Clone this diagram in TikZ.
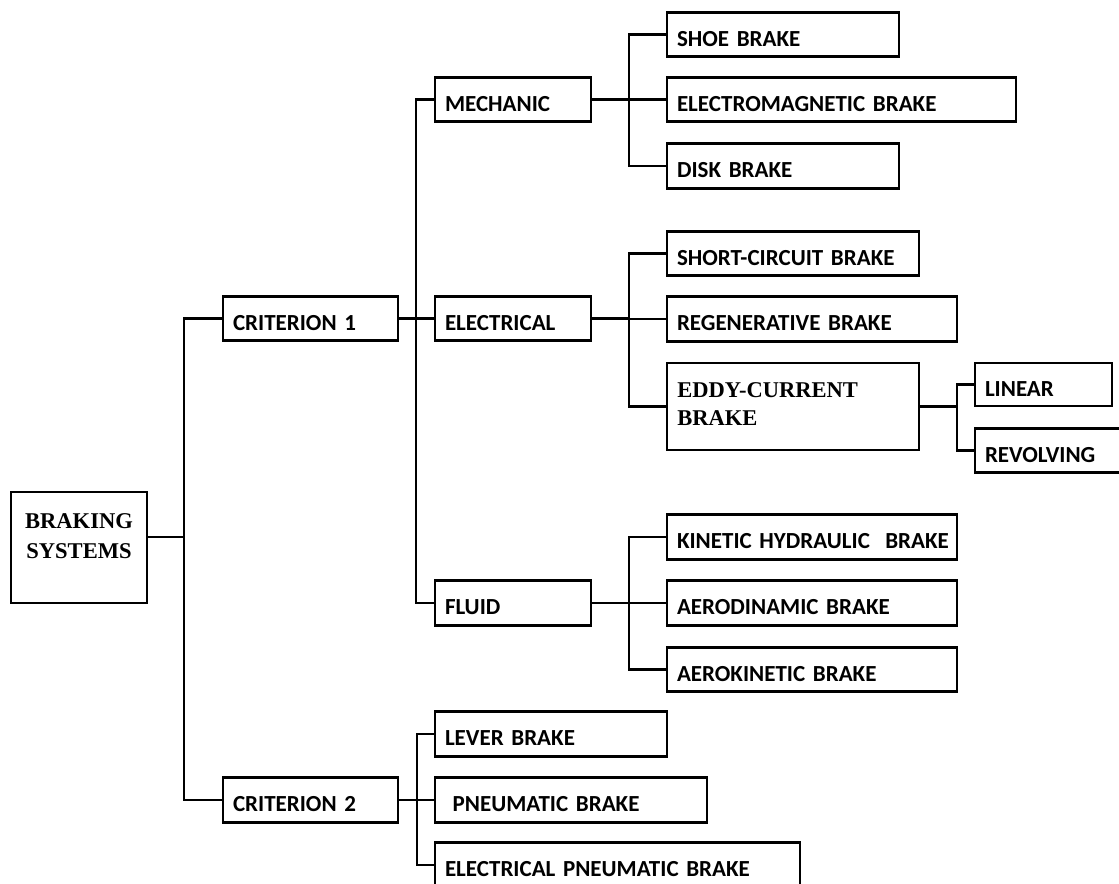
\documentclass[tikz,border=0pt]{standalone}
\usepackage{fontspec}
\newfontfamily\lblfont{Carlito}
\newfontfamily\serfont{Liberation Serif}
\tikzset{
box/.style={draw,line width=2pt,inner xsep=7.5pt,inner ysep=0pt,minimum height=33.4pt,text height=17.25pt,text depth=0pt,align=left,font=\lblfont\bfseries\fontsize{17.25}{20}\selectfont},
conn/.style={line width=1.7pt,line cap=rect},
sertext/.style={inner sep=0pt,align=left,font=\serfont\bfseries\fontsize{16.9}{21}\selectfont}
}
\begin{document}
\begin{tikzpicture}[x=0.75pt,y=-0.75pt]
\useasboundingbox (0,0) rectangle (1119,883);
\node[box,minimum width=102pt,minimum height=83.25pt] (sys) at (79,547.5) {};
\node[sertext,align=center,font=\serfont\bfseries\fontsize{16.9}{22.5}\selectfont,anchor=north] (sys-t) at (79,513.5) {BRAKING\\SYSTEMS};
\node[box,text width=116.25pt] (crit1) at (310.5,318.5) {CRITERION 1};
\node[box,text width=116.25pt] (crit2) at (310.5,800) {CRITERION 2};
\node[box,text width=102pt] (mech) at (513,99.5) {MECHANIC};
\node[box,text width=102pt] (elec) at (513,318.5) {ELECTRICAL};
\node[box,text width=102pt] (fluid) at (513,603) {FLUID};
\node[box,text width=159pt] (shoe) at (783,34.5) {SHOE BRAKE};
\node[box,text width=246.75pt] (emag) at (841.5,99.5) {ELECTROMAGNETIC BRAKE};
\node[box,text width=159pt] (disk) at (783,166) {DISK BRAKE};
\node[box,text width=174pt] (short) at (793,253.5) {SHORT-CIRCUIT BRAKE};
\node[box,text width=202.5pt] (regen) at (812,319) {REGENERATIVE BRAKE};
\node[box,minimum width=189pt,minimum height=65.25pt] (eddy) at (793,406.5) {};
\node[sertext,anchor=north west] (eddy-t) at (677,382) {EDDY-CURRENT\\BRAKE};
\node[box,text width=87.75pt,minimum height=32.25pt] (linear) at (1043.5,384.5) {LINEAR};
\node[box,text width=97.5pt] (revolv) at (1050,450.5) {REVOLVING};
\node[box,text width=202.5pt] (kinetic) at (812,537) {\mbox{KINETIC HYDRAULIC\ \ BRAKE}};
\node[box,text width=202.5pt] (aerod) at (812,603) {AERODINAMIC BRAKE};
\node[box,text width=202.5pt] (aerok) at (812,669.5) {AEROKINETIC BRAKE};
\node[box,text width=159pt] (lever) at (551,734) {LEVER BRAKE};
\node[box,text width=189pt] (pneum) at (571,800) {~PNEUMATIC BRAKE};
\node[box,text width=258.75pt] (elpneum) at (617.5,865) {ELECTRICAL PNEUMATIC BRAKE};
% junction columns
\coordinate (j0) at (184,0);
\coordinate (j1) at (416,0);
\coordinate (j2) at (629,0);
\coordinate (j3) at (957,0);
\coordinate (j4) at (417,0);
\coordinate (s0) at ([yshift=7.9pt]sys.east);
\draw[conn] (s0) -- (s0 -| j0);
\draw[conn] (crit1.west -| j0) -- (crit2.west -| j0);
\foreach \n in {crit1,crit2} \draw[conn] (\n.west -| j0) -- (\n.west);
\draw[conn] (crit1.east) -- (crit1.east -| j1);
\draw[conn] (mech.west -| j1) -- (fluid.west -| j1);
\foreach \n in {mech,elec,fluid} \draw[conn] (\n.west -| j1) -- (\n.west);
\draw[conn] (mech.east) -- (mech.east -| j2);
\draw[conn] (shoe.west -| j2) -- (disk.west -| j2);
\foreach \n in {shoe,emag,disk} \draw[conn] (\n.west -| j2) -- (\n.west);
\draw[conn] (elec.east) -- (elec.east -| j2);
\draw[conn] (short.west -| j2) -- (eddy.west -| j2);
\foreach \n in {short,regen,eddy} \draw[conn] (\n.west -| j2) -- (\n.west);
\draw[conn] (eddy.east) -- (eddy.east -| j3);
\draw[conn] (linear.west -| j3) -- (revolv.west -| j3);
\foreach \n in {linear,revolv} \draw[conn] (\n.west -| j3) -- (\n.west);
\draw[conn] (fluid.east) -- (fluid.east -| j2);
\draw[conn] (kinetic.west -| j2) -- (aerok.west -| j2);
\foreach \n in {kinetic,aerod,aerok} \draw[conn] (\n.west -| j2) -- (\n.west);
\draw[conn] (crit2.east) -- (crit2.east -| j4);
\draw[conn] (lever.west -| j4) -- (elpneum.west -| j4);
\foreach \n in {lever,pneum,elpneum} \draw[conn] (\n.west -| j4) -- (\n.west);
\end{tikzpicture}
\end{document}
